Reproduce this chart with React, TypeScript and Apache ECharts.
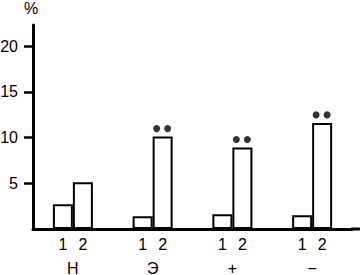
import React, { useEffect, useRef } from "react";
import * as echarts from "echarts";

const categories = ["Н", "Э", "+", "−"];
const barNames = ["1", "2"];
const series1Values = [2.7, 1.4, 1.6, 1.5];
const series2Values = [5.1, 10.1, 8.9, 11.6];
const marked = [false, true, true, true];
const yTicks = [5, 10, 15, 20];

const FONT = "Liberation Sans";

export default function App() {
  const ref = useRef<HTMLDivElement>(null);
  useEffect(() => {
    document.body.style.margin = "0";
    const chart = echarts.init(ref.current!, null, { renderer: "svg" });
    const gridLeft = 33;
    const gridRight = 8;
    const gridTop = 25;
    const gridBottom = 46;
    const dotData = series2Values.map((v, i) => (marked[i] ? v : "-"));
    const barStyle = { color: "#fff", borderColor: "#000", borderWidth: 2 };
    const barLabel = {
      show: true,
      position: "bottom",
      distance: 7,
      formatter: "{a}",
      color: "#000",
      fontSize: 16,
      fontFamily: FONT,
    };
    chart.setOption({
      animation: false,
      grid: {
        left: gridLeft,
        right: gridRight,
        top: gridTop,
        bottom: gridBottom,
        containLabel: false,
        outerBoundsMode: "none",
      },
      xAxis: {
        type: "category",
        data: categories,
        axisLine: { show: true, lineStyle: { color: "#000", width: 3 } },
        axisTick: { show: false },
        axisLabel: { margin: 31, fontSize: 16, color: "#000", fontFamily: FONT },
      },
      yAxis: {
        type: "value",
        min: 0,
        max: 22.3,
        interval: 5,
        name: "%",
        nameLocation: "end",
        nameGap: 9,
        nameTextStyle: { color: "#000", fontSize: 16, fontFamily: FONT, align: "center", padding: [0, 4, 0, 0] },
        splitLine: { show: false },
        axisLine: { show: true, lineStyle: { color: "#000", width: 3 } },
        axisTick: { show: true, length: 9, customValues: yTicks, lineStyle: { color: "#000", width: 2.5 } },
        axisLabel: { margin: 15, customValues: yTicks, fontSize: 16, color: "#000", fontFamily: FONT },
      },
      graphic: [
        {
          type: "rect",
          shape: { x: 360 - gridRight - 1, y: 275 - gridBottom - 1.5, width: gridRight + 1, height: 3 },
          style: { fill: "#000" },
        },
      ],
      series: [
        {
          type: "bar",
          name: barNames[0],
          data: series1Values,
          barWidth: 20,
          barGap: "0%",
          itemStyle: barStyle,
          label: barLabel,
        },
        {
          type: "bar",
          name: barNames[1],
          data: series2Values,
          barWidth: 20,
          barGap: "0%",
          itemStyle: barStyle,
          label: barLabel,
        },
        {
          type: "scatter",
          data: dotData,
          symbol: "circle",
          symbolSize: 7,
          symbolOffset: [4, -8],
          itemStyle: { color: "#000" },
        },
        {
          type: "scatter",
          data: dotData,
          symbol: "circle",
          symbolSize: 7,
          symbolOffset: [15, -8],
          itemStyle: { color: "#000" },
        },
      ],
    });
    return () => chart.dispose();
  }, []);
  return <div ref={ref} style={{ width: 360, height: 275 }} />;
}
